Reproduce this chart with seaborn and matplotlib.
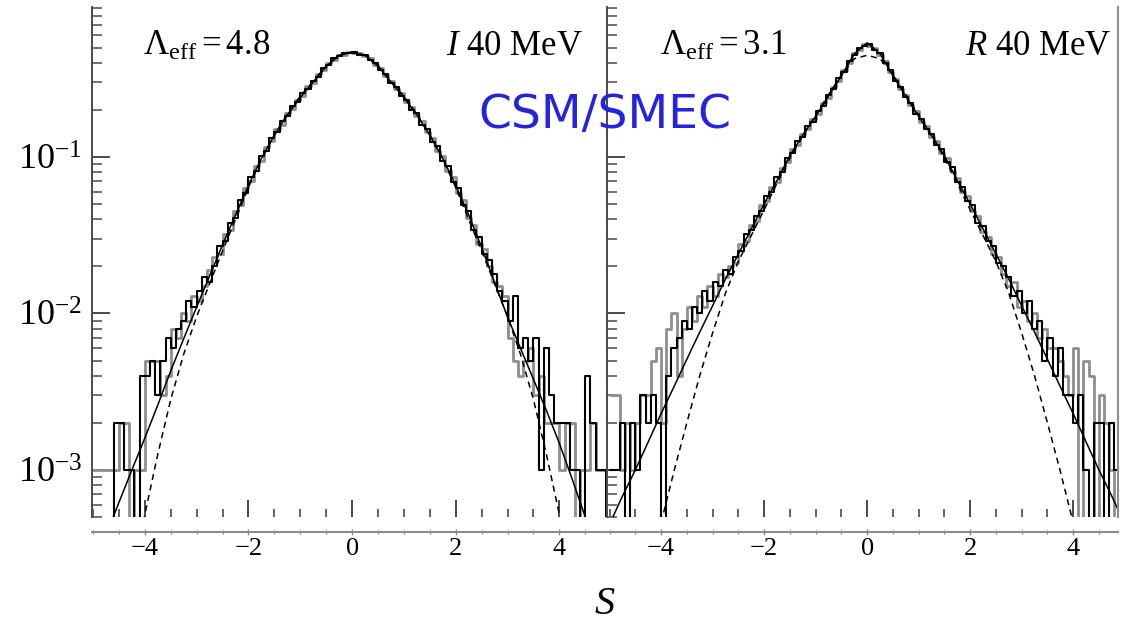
import numpy as np
import matplotlib
matplotlib.use("Agg")
import matplotlib.pyplot as plt
from matplotlib.ticker import MultipleLocator, LogLocator, FixedLocator
import seaborn as sns

# ---------------------------------------------------------------------------
# Data: histograms of S (bin width 0.1 on [-5, 5]) and two reference curves
# ---------------------------------------------------------------------------
BIN_WIDTH = 0.1
BIN_EDGES = np.round(np.arange(-5.0, 5.0 + BIN_WIDTH / 2, BIN_WIDTH), 2)
BIN_CENTERS = np.round(BIN_EDGES[:-1] + BIN_WIDTH / 2, 2)
N_EVENTS = 10000  # total number of sampled values per histogram

# counts per bin, imaginary part (I 40 MeV)
I_COUNTS_BLACK = [
    0, 0, 0, 0, 2, 2, 1, 1, 0, 4, 4, 5, 3, 5, 7, 6, 8, 9, 12, 11, 14, 17, 16,
    20, 27, 29, 38, 41, 53, 59, 75, 82, 101, 110, 133, 144, 169, 182, 211, 224,
    257, 272, 308, 327, 371, 389, 428, 441, 462, 459, 470, 452, 450, 418, 399,
    360, 338, 297, 281, 247, 232, 201, 190, 161, 151, 125, 117, 95, 88, 69, 63,
    49, 45, 34, 31, 24, 22,
    18, 14, 12, 9, 13, 6, 7, 5, 7, 1, 6, 3, 2, 2, 2, 1, 1, 0, 4, 2, 1, 1, 0,
]
I_COUNTS_GRAY = [
    1, 1, 1, 1, 1, 2, 2, 0, 1, 1, 5, 5, 5, 3, 4, 8, 7, 10, 9, 13, 12, 15, 19,
    23, 24, 32, 34, 45, 49, 63, 70, 88, 95, 116, 126, 151, 161, 190, 202, 233,
    247, 283, 297, 339, 360, 401, 417, 452, 450, 471, 461, 463, 440, 427, 390,
    369, 329, 306, 272, 256, 224, 210, 182, 169, 144, 133, 110, 101, 82, 74, 59,
    53, 41, 37, 28, 26, 20,
    16, 15, 13, 7, 5, 4, 5, 6, 3, 4, 2, 2, 2, 1, 2, 2, 0, 1, 1, 2, 1, 1, 1,
]

# counts per bin, real part (R 40 MeV)
R_COUNTS_BLACK = [
    1, 1, 2, 0, 2, 1, 3, 2, 3, 2, 0, 4, 6, 7, 9, 8, 11, 10, 14, 12, 16, 15, 19,
    18, 23, 25, 32, 34, 42, 45, 56, 60, 74, 80, 98, 106, 127, 134, 159, 168,
    197, 213, 250, 271, 318, 349, 411, 450, 497, 512, 527, 484, 463, 399, 361,
    307, 281, 241, 222, 189, 176, 151, 141, 120, 112, 93, 86, 69, 64, 52, 49,
    38, 36, 29, 27, 21, 20,
    17, 13, 14, 10, 12, 8, 9, 5, 7, 4, 6, 3, 3, 2, 3, 1, 0, 2, 2, 0, 2, 1, 1,
]
R_COUNTS_GRAY = [
    3, 3, 1, 2, 1, 2, 3, 3, 5, 6, 2, 8, 10, 4, 8, 11, 9, 13, 11, 15, 13, 18, 17,
    20, 21, 28, 29, 37, 39, 49, 52, 64, 69, 85, 93, 112, 120, 141, 151, 176,
    189, 222, 240, 281, 307, 360, 399, 463, 484, 526, 514, 495, 451, 410, 350,
    317, 272, 249, 214, 197, 168, 158, 135, 126, 106, 98, 81, 73, 60, 56, 45,
    42, 33, 31, 24, 23, 18,
    15, 16, 11, 12, 9, 10, 7, 8, 6, 6, 5, 4, 3, 6, 0, 5, 4, 0, 3, 2, 1, 0, 0,
]

# model densities on S = -5, -4.75, ..., 5
CURVE_S = np.round(np.linspace(-5.0, 5.0, 41), 2)
I_MODEL = [
    2.3e-4, 3.8e-4, 6.2e-4, 1.0e-3, 1.6e-3, 2.6e-3, 4.3e-3, 6.9e-3, 0.0110,
    0.0174, 0.0275, 0.0427, 0.066, 0.098, 0.138, 0.186, 0.240, 0.302, 0.380,
    0.447, 0.468, 0.447, 0.380, 0.302, 0.240, 0.186, 0.138, 0.098, 0.066,
    0.0427, 0.0265, 0.0158, 0.0095, 0.0060, 0.0038, 0.0024, 0.00148, 8.7e-4,
    5.0e-4, 2.9e-4, 1.66e-4,
]
I_GAUSS = [
    5e-6, 2e-5, 6.3e-5, 2.0e-4, 5.2e-4, 1.26e-3, 2.82e-3, 5.5e-3, 9.55e-3,
    0.0155, 0.0251, 0.0400, 0.064, 0.097, 0.138, 0.188, 0.245, 0.305, 0.382,
    0.447, 0.466, 0.447, 0.382, 0.305, 0.245, 0.188, 0.138, 0.097, 0.064,
    0.0400, 0.0251, 0.0155, 9.55e-3, 5.5e-3, 2.82e-3, 1.26e-3, 5.2e-4, 2.0e-4,
    6.3e-5, 2e-5, 5e-6,
]
R_MODEL = [
    4.5e-4, 6.8e-4, 1.0e-3, 1.51e-3, 2.29e-3, 3.4e-3, 5.1e-3, 7.6e-3, 0.0112,
    0.0166, 0.0240, 0.0347, 0.0501, 0.0708, 0.102, 0.138, 0.182, 0.245, 0.331,
    0.457, 0.537, 0.457, 0.331, 0.245, 0.182, 0.138, 0.102, 0.0708, 0.0501,
    0.0347, 0.0240, 0.0166, 0.0112, 7.6e-3, 5.1e-3, 3.4e-3, 2.29e-3, 1.51e-3,
    1.0e-3, 6.8e-4, 4.5e-4,
]
R_GAUSS = [
    1.6e-5, 3.8e-5, 8.9e-5, 2.1e-4, 4.6e-4, 9.8e-4, 2.0e-3, 4.0e-3, 7.5e-3,
    0.0135, 0.0215, 0.0315, 0.046, 0.068, 0.099, 0.137, 0.185, 0.250, 0.335,
    0.425, 0.447, 0.425, 0.335, 0.250, 0.185, 0.137, 0.099, 0.068, 0.046,
    0.0315, 0.0215, 0.0135, 7.5e-3, 4.0e-3, 2.0e-3, 9.8e-4, 4.6e-4, 2.1e-4,
    8.9e-5, 3.8e-5, 1.6e-5,
]

S_TICKS = [-4, -2, 0, 2, 4]
LAMBDA_LABELS = [r"$\Lambda_{\rm eff} = 4.8$", r"$\Lambda_{\rm eff} = 3.1$"]
ENERGY_LABELS = [r"$I$ 40 MeV", r"$R$ 40 MeV"]

# ---------------------------------------------------------------------------
# Styling
# ---------------------------------------------------------------------------
sns.set_theme(style="white")
plt.rcParams["font.family"] = ["Liberation Serif", "DejaVu Serif"]
plt.rcParams["mathtext.fontset"] = "custom"
plt.rcParams["mathtext.rm"] = "Liberation Serif"
plt.rcParams["mathtext.it"] = "Liberation Serif:italic"
plt.rcParams["mathtext.bf"] = "Liberation Serif:bold"
plt.rcParams["axes.unicode_minus"] = True
plt.rcParams["text.color"] = "black"
plt.rcParams["xtick.labelcolor"] = "black"
plt.rcParams["ytick.labelcolor"] = "black"

AXIS_GRAY = "#4a4a4a"
LIGHT_GRAY = "#8c8c8c"
HIST_GRAY = "#8e8e8e"

W, H = 1126, 626
fig = plt.figure(figsize=(W / 100, H / 100), dpi=100)
ax_i = fig.add_axes([92 / W, 1 - 517 / H, 515 / W, 510 / H])
ax_r = fig.add_axes([607 / W, 1 - 517 / H, 511 / W, 510 / H])

panels = [
    (ax_i, I_COUNTS_BLACK, I_COUNTS_GRAY, I_MODEL, I_GAUSS, (-5.02, 4.92),
     LAMBDA_LABELS[0], ENERGY_LABELS[0], 0.099, 0.953, True),
    (ax_r, R_COUNTS_BLACK, R_COUNTS_GRAY, R_MODEL, R_GAUSS, (-5.05, 4.87),
     LAMBDA_LABELS[1], ENERGY_LABELS[1], 0.104, 0.988, False),
]

edges_list = BIN_EDGES.tolist()

for (ax, blk, gry, model, gauss, xlim, lam_txt, en_txt,
     lam_x, en_x, first) in panels:
    ax.set_yscale("log")

    gray_density = np.asarray(gry) / (N_EVENTS * BIN_WIDTH)
    black_density = np.asarray(blk) / (N_EVENTS * BIN_WIDTH)
    sns.histplot(x=BIN_CENTERS, weights=gray_density, bins=edges_list,
                 stat="count", element="step", fill=False, color=HIST_GRAY,
                 linewidth=2.0, ax=ax)
    sns.histplot(x=BIN_CENTERS, weights=black_density, bins=edges_list,
                 stat="count", element="step", fill=False, color="black",
                 linewidth=1.5, ax=ax)
    sns.lineplot(x=CURVE_S, y=model, color="black", linewidth=1.1, ax=ax)
    sns.lineplot(x=CURVE_S, y=gauss, color="black", linewidth=1.1,
                 linestyle=(0, (4, 3)), ax=ax)

    ax.set_xlim(*xlim)
    ax.set_ylim(5.0e-4, 0.91)
    ax.set_xlabel("")
    ax.set_ylabel("")

    # frame
    ax.spines["top"].set_visible(False)
    ax.spines["bottom"].set_visible(False)
    ax.spines["left"].set_color(AXIS_GRAY)
    ax.spines["left"].set_linewidth(1.4)
    if first:
        ax.spines["right"].set_visible(False)
    else:
        ax.spines["right"].set_color(LIGHT_GRAY)
        ax.spines["right"].set_linewidth(1.5)

    # inner tick marks
    ax.yaxis.set_major_locator(LogLocator(base=10))
    ax.yaxis.set_minor_locator(LogLocator(base=10, subs=np.arange(2, 10)))
    ax.xaxis.set_major_locator(FixedLocator(S_TICKS))
    ax.xaxis.set_minor_locator(MultipleLocator(0.5))
    ax.tick_params(axis="y", which="major", direction="in", length=13,
                   width=1.4, color=AXIS_GRAY, labelsize=26, pad=7,
                   left=True, right=False, labelleft=first)
    ax.tick_params(axis="y", which="minor", direction="in", length=7,
                   width=1.1, color=AXIS_GRAY, left=True, right=False)
    ax.tick_params(axis="x", which="major", direction="in", length=12,
                   width=1.4, color=AXIS_GRAY, bottom=True, top=False,
                   labelbottom=False)
    ax.tick_params(axis="x", which="minor", direction="in", length=6,
                   width=1.2, color=AXIS_GRAY, bottom=True, top=False)

    # detached S axis line with its numbers
    sec = ax.secondary_xaxis(-15 / 510)
    for side in ("top", "bottom"):
        sec.spines[side].set_color(LIGHT_GRAY)
        sec.spines[side].set_linewidth(1.5)
    sec.xaxis.set_major_locator(FixedLocator(S_TICKS))
    sec.xaxis.set_minor_locator(MultipleLocator(0.5))
    sec.tick_params(which="major", direction="inout", length=4, width=1.0,
                    color=LIGHT_GRAY, labelsize=19, pad=2)
    sec.tick_params(which="minor", direction="inout", length=3, width=0.9,
                    color=LIGHT_GRAY)

    ax.text(lam_x, 0.906, lam_txt, transform=ax.transAxes, fontsize=25,
            ha="left", va="baseline")
    ax.text(en_x, 0.906, en_txt, transform=ax.transAxes, fontsize=25,
            ha="right", va="baseline")

fig.text(605 / W, 1 - 116 / H, "CSM/SMEC", color="#2424dc", fontsize=34,
         family="DejaVu Sans", ha="center", va="center")
fig.text(605 / W, 1 - 605 / H, "S", fontsize=29, fontstyle="italic",
         ha="center", va="center")

fig.savefig("out.png", dpi=100)
